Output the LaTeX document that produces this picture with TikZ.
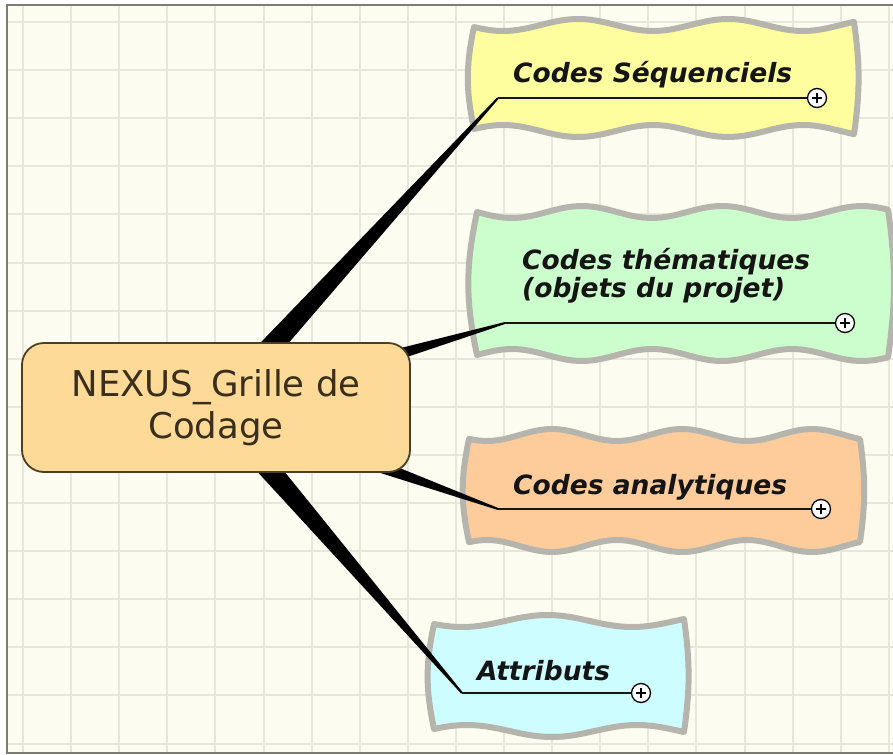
\documentclass[tikz,border=0pt]{standalone}
\usepackage{fontspec}
\setmainfont{DejaVu Sans}
\usetikzlibrary{calc}
\pgfdeclarelayer{bg}
\pgfdeclarelayer{wedgelayer}
\pgfsetlayers{bg,wedgelayer,main}
\definecolor{paper}{HTML}{FCFDF0}
\definecolor{gridc}{HTML}{E7E8DC}
\definecolor{framec}{HTML}{7C7C74}
\definecolor{waveg}{HTML}{B5B5AE}
\definecolor{cyel}{HTML}{FEFE9E}
\definecolor{cgreen}{HTML}{CCFDCC}
\definecolor{corange}{HTML}{FECC9B}
\definecolor{ccyan}{HTML}{CDFDFE}
\definecolor{rootfill}{HTML}{FDDA97}
\definecolor{rootdraw}{HTML}{4E3E22}
\definecolor{roottext}{HTML}{3A2E1C}
\definecolor{inkc}{HTML}{151515}
\tikzset{
  gridline/.style={draw=gridc, line width=2pt},
  waveborder/.style={draw=waveg, line width=6pt, line join=round},
  rootbox/.style={rounded corners=22pt, draw=rootdraw, line width=1.8pt, fill=rootfill,
    minimum width=388pt, minimum height=129pt, align=center, text=roottext,
    font=\fontsize{35.5}{42}\selectfont},
  childtext/.style={anchor=base west, inner sep=0pt, text=inkc,
    font=\fontsize{26.5}{32}\selectfont\bfseries\itshape},
  uline/.style={draw=inkc, line width=1.5pt},
  plusc/.style={circle, draw=black, fill=white, line width=1.3pt, minimum size=19pt, inner sep=0pt,
    path picture={\draw[line width=1.3pt]
      ([xshift=-5pt]path picture bounding box.center) -- ([xshift=5pt]path picture bounding box.center)
      ([yshift=-5pt]path picture bounding box.center) -- ([yshift=5pt]path picture bounding box.center);}},
  wedge/.style={fill=black}
}
% #1 x0 #2 x1 #3 y0 #4 y1 #5 wavelength #6 top phase #7 bottom phase #8 colour
\newcommand\mywavebox[8]{%
  \filldraw[waveborder, fill=#8]
    (#1,{#4+6*sin(#7)}) to[bend left=12] (#1,{#3+6*sin(#6)})
    -- plot[domain=#1:#2, samples=70] (\x,{#3+6*sin((\x-#1)/#5*360+#6)})
    to[bend left=8] (#2,{#4+6*sin((#2-#1)/#5*360+#7)})
    -- plot[domain=#2:#1, samples=70] (\x,{#4+6*sin((\x-#1)/#5*360+#7)})
    -- cycle;}
\newcommand\mywedge[2]{%
  \fill[wedge] ($(#1)!13pt!90:(#2)$) -- ($(#2)!1pt!-90:(#1)$) -- ($(#2)!1pt!90:(#1)$) -- ($(#1)!13pt!-90:(#2)$) -- cycle;}
\begin{document}
\begin{tikzpicture}[x=1pt, y=-1pt]
\useasboundingbox (0,0) rectangle (893,754);
\begin{pgfonlayer}{bg}
  \fill[white] (0,0) rectangle (893,754);
  \fill[paper] (7,5) rectangle (893,753);
  \foreach \i in {0,...,18} {\draw[gridline] ({23+48.1*\i},5) -- ({23+48.1*\i},753);}
  \foreach \j in {0,...,15} {\draw[gridline] (7,{22+48.1*\j}) -- (893,{22+48.1*\j});}
  \draw[draw=framec, line width=2pt] (900,5) -- (7,5) -- (7,753) -- (900,753);
  \mywavebox{474}{854}{25}{131}{150}{20}{200}{cyel}
  \mywavebox{477}{888}{212}{355}{140}{0}{180}{cgreen}
  \mywavebox{469}{860}{435}{546}{130}{40}{220}{corange}
  \mywavebox{434}{684}{621}{731}{170}{30}{200}{ccyan}
\end{pgfonlayer}

% root
\node[rootbox] (root) at (216,407.5) {NEXUS\_Grille de\\Codage};

% child 1
\node[childtext] (t1) at (513,83) {Codes Séquenciels};
\coordinate (u1) at (498,98);
\node[plusc] (p1) at (817,98) {};
\draw[uline] (u1) -- (p1);

% child 2
\node[childtext] (t2a) at (522,269) {Codes thématiques};
\node[childtext] (t2b) at (522,297) {(objets du projet)};
\coordinate (u2) at (505,323);
\node[plusc] (p2) at (845,323) {};
\draw[uline] (u2) -- (p2);

% child 3
\node[childtext] (t3) at (513,494) {Codes analytiques};
\coordinate (u3) at (498,509);
\node[plusc] (p3) at (821,509) {};
\draw[uline] (u3) -- (p3);

% child 4
\node[childtext] (t4) at (477,680) {Attributs};
\coordinate (u4) at (462,693);
\node[plusc] (p4) at (641,693) {};
\draw[uline] (u4) -- (p4);

\begin{pgfonlayer}{wedgelayer}
  \mywedge{root.center}{u1}
  \mywedge{root.center}{u2}
  \mywedge{root.center}{u3}
  \mywedge{root.center}{u4}
\end{pgfonlayer}
\end{tikzpicture}
\end{document}
